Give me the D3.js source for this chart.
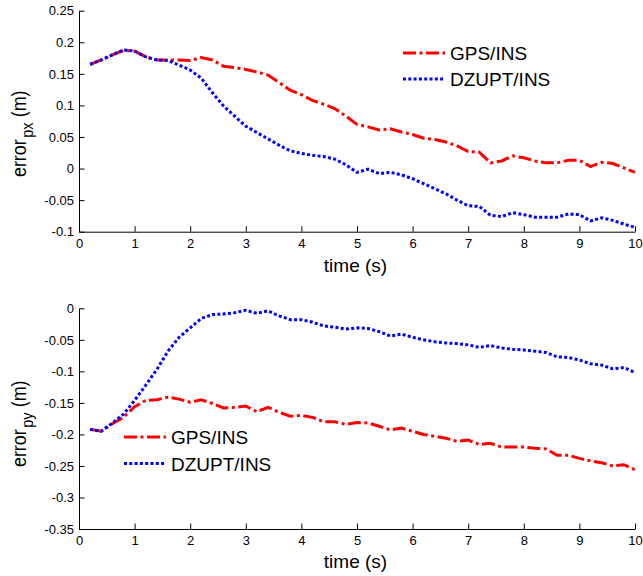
<!DOCTYPE html>
<html>
<head>
<meta charset="utf-8">
<script src="https://cdnjs.cloudflare.com/ajax/libs/d3/7.8.5/d3.min.js"></script>
<style>
  body { margin: 0; background: #fff; }
  text { font-family: "Liberation Sans", Arial, Helvetica, sans-serif; fill: #000; }
  .axis text { font-size: 13px; }
  .axis path, .axis line { stroke: #000; stroke-width: 1; }
  .label { font-size: 19px; }
</style>
</head>
<body>
<script>
// sample times (s)
const time = [0.2, 0.4, 0.6, 0.8, 1.0, 1.2, 1.4, 1.6, 1.8, 2.0,
  2.2, 2.4, 2.6, 2.8, 3.0, 3.2, 3.4, 3.6, 3.8, 4.0,
  4.2, 4.4, 4.6, 4.8, 5.0, 5.2, 5.4, 5.6, 5.8, 6.0,
  6.2, 6.4, 6.6, 6.8, 7.0, 7.2, 7.4, 7.6, 7.8, 8.0,
  8.2, 8.4, 8.6, 8.8, 9.0, 9.2, 9.4, 9.6, 9.8, 10.0];

// error_px (m)
const gpsPx = [0.165, 0.172, 0.180, 0.187, 0.186, 0.177, 0.172, 0.172, 0.172, 0.171,
  0.176, 0.172, 0.162, 0.160, 0.157, 0.153, 0.148, 0.136, 0.124, 0.117,
  0.108, 0.102, 0.095, 0.083, 0.070, 0.066, 0.061, 0.063, 0.058, 0.054,
  0.048, 0.046, 0.042, 0.036, 0.027, 0.026, 0.009, 0.012, 0.020, 0.017,
  0.012, 0.009, 0.009, 0.013, 0.013, 0.003, 0.010, 0.008, 0.001, -0.006];
const dzuptPx = [0.165, 0.172, 0.180, 0.188, 0.186, 0.177, 0.172, 0.171, 0.164, 0.156,
  0.143, 0.120, 0.099, 0.083, 0.067, 0.057, 0.047, 0.037, 0.028, 0.024,
  0.021, 0.019, 0.015, 0.006, -0.006, -0.001, -0.008, -0.006, -0.010, -0.016,
  -0.024, -0.032, -0.040, -0.050, -0.059, -0.060, -0.074, -0.076, -0.070, -0.073,
  -0.077, -0.077, -0.077, -0.072, -0.073, -0.083, -0.078, -0.082, -0.088, -0.093];

// error_py (m)
const gpsPy = [-0.192, -0.195, -0.183, -0.173, -0.156, -0.146, -0.145, -0.141, -0.144, -0.149,
  -0.145, -0.151, -0.158, -0.157, -0.155, -0.164, -0.157, -0.165, -0.171, -0.170,
  -0.173, -0.180, -0.180, -0.184, -0.181, -0.182, -0.187, -0.193, -0.190, -0.195,
  -0.200, -0.203, -0.206, -0.211, -0.209, -0.216, -0.214, -0.220, -0.220, -0.220,
  -0.222, -0.223, -0.233, -0.233, -0.238, -0.242, -0.245, -0.250, -0.248, -0.256];
const dzuptPy = [-0.192, -0.195, -0.182, -0.168, -0.146, -0.122, -0.097, -0.068, -0.046, -0.031,
  -0.016, -0.010, -0.009, -0.007, -0.003, -0.008, -0.004, -0.012, -0.018, -0.018,
  -0.022, -0.028, -0.030, -0.033, -0.031, -0.032, -0.037, -0.044, -0.041, -0.046,
  -0.050, -0.053, -0.055, -0.056, -0.058, -0.062, -0.059, -0.063, -0.065, -0.066,
  -0.068, -0.070, -0.077, -0.078, -0.082, -0.088, -0.090, -0.096, -0.094, -0.102];

const timeTicks = [0, 1, 2, 3, 4, 5, 6, 7, 8, 9, 10];
const pxTicks = [-0.1, -0.05, 0, 0.05, 0.1, 0.15, 0.2, 0.25];
const pyTicks = [-0.35, -0.3, -0.25, -0.2, -0.15, -0.1, -0.05, 0];
const seriesNames = ["GPS/INS", "DZUPT/INS"];

const styles = [
  { color: "#ff0000", dash: "13,3.5,3,3.5" },
  { color: "#0000ff", dash: "3,2.3" }
];

const svg = d3.select("body").append("svg")
    .attr("width", 643)
    .attr("height", 576);

function fmt(d) {
  return String(+d.toFixed(2));
}

function drawPanel(opts) {
  const left = 79, right = 635;
  const x = d3.scaleLinear().domain([0, 10]).range([left, right]);
  const y = d3.scaleLinear().domain(d3.extent(opts.yTicks)).range([opts.bottom, opts.top]);

  const g = svg.append("g");

  g.append("g")
      .attr("class", "axis")
      .attr("transform", `translate(0,${opts.bottom})`)
      .call(d3.axisBottom(x).tickValues(timeTicks).tickSize(-5.5).tickSizeOuter(0)
        .tickPadding(7).tickFormat(d3.format("d")));

  g.append("g")
      .attr("class", "axis")
      .attr("transform", `translate(${left},0)`)
      .call(d3.axisLeft(y).tickValues(opts.yTicks).tickSize(-5.5).tickSizeOuter(0)
        .tickPadding(5).tickFormat(fmt));

  g.selectAll(".axis .domain").attr("fill", "none");

  const line = d3.line()
      .x((d, i) => x(time[i]))
      .y(d => y(d));

  opts.series.forEach((s, i) => {
    g.append("path")
        .datum(s)
        .attr("fill", "none")
        .attr("stroke", styles[i].color)
        .attr("stroke-width", 3)
        .attr("stroke-dasharray", styles[i].dash)
        .attr("d", line);
  });

  // x label
  g.append("text")
      .attr("class", "label")
      .attr("x", (left + right) / 2 - 1.5)
      .attr("y", opts.xLabelY)
      .attr("text-anchor", "middle")
      .text("time (s)");

  // y label with subscript, slightly squeezed along its length like the original
  const yl = g.append("text")
      .attr("transform", `translate(26,${opts.yLabelStart}) rotate(-90) scale(0.85,1)`)
      .style("font-size", "21px");
  yl.append("tspan").text("error");
  yl.append("tspan").attr("dx", 2).attr("dy", 7).style("font-size", "17px").text(opts.sub);
  yl.append("tspan").attr("dx", 6).attr("dy", -7).text("(m)");

  // legend, no box
  seriesNames.forEach((name, i) => {
    const ly = opts.legend.y + i * opts.legend.step;
    g.append("line")
        .attr("x1", opts.legend.x)
        .attr("x2", opts.legend.x + 42)
        .attr("y1", ly)
        .attr("y2", ly)
        .attr("stroke", styles[i].color)
        .attr("stroke-width", 3)
        .attr("stroke-dasharray", styles[i].dash);
    g.append("text")
        .attr("class", "label")
        .attr("x", opts.legend.x + 47)
        .attr("y", ly + 7)
        .text(name);
  });
}

drawPanel({
  top: 10.7, bottom: 231.7, yTicks: pxTicks,
  series: [gpsPx, dzuptPx], sub: "px",
  xLabelY: 272, yLabelStart: 177,
  legend: { x: 403, y: 53, step: 26 }
});

drawPanel({
  top: 308.3, bottom: 529, yTicks: pyTicks,
  series: [gpsPy, dzuptPy], sub: "py",
  xLabelY: 568, yLabelStart: 467,
  legend: { x: 124, y: 437, step: 26.5 }
});
</script>
</body>
</html>
